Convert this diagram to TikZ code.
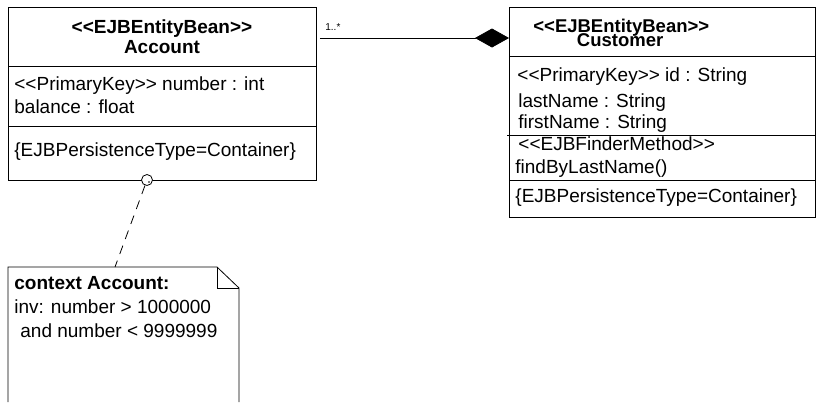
\documentclass[tikz,border=0pt]{standalone}
\usepackage{fontspec}
\setmainfont{Liberation Sans}
\usetikzlibrary{arrows.meta,calc,positioning}
\newcommand{\stype}[1]{<{}<#1>{}>}
\tikzset{cls/.style={draw,anchor=north west,inner sep=0pt},
  txt/.style={anchor=base west,inner sep=0pt},
  ttl/.style={anchor=base,inner sep=0pt,font=\fontsize{19}{23}\selectfont\bfseries}}

\begin{document}
\begin{tikzpicture}[x=1pt,y=-1pt,line width=0.8pt,
  every node/.append style={font=\fontsize{19}{23}\selectfont}]
\useasboundingbox (0,0) rectangle (816,402);
% Account bean
\node[cls,minimum width=308pt,minimum height=173pt] (account) at (8,7) {};
\draw (account.west |- 0,66) -- (account.east |- 0,66);
\draw (account.west |- 0,126) -- (account.east |- 0,126);
\node[ttl] (acct1) at (162,33.3) {\stype{EJBEntityBean}};
\node[ttl] (acct2) at (162,53.3) {Account};
\node[txt] (acca1) at (14,90.5) {\stype{PrimaryKey} number : int};
\node[txt] (acca2) at (14,113) {balance : float};
\node[txt] (accp) at (14,156) {\{EJBPersistenceType=Container\}};
% Customer bean
\node[cls,minimum width=306pt,minimum height=210pt] (customer) at (509,7) {};
\draw (customer.west |- 0,56) -- (customer.east |- 0,56);
\draw ($(customer.west |- 0,135)+(-2,0)$) -- (customer.east |- 0,135);
\draw (customer.west |- 0,180) -- (customer.east |- 0,180);
\node[ttl,anchor=base west,font=\fontsize{18.5}{22}\selectfont\bfseries] (cust1) at (533,32) {\stype{EJBEntityBean}};
\node[ttl,anchor=base west,font=\fontsize{18.5}{22}\selectfont\bfseries] (cust2) at (576.5,46.5) {Customer};
\node[txt] (cusa1) at (517,81) {\stype{PrimaryKey} id : String};
\node[txt] (cusa2) at (518,107.5) {lastName : String};
\node[txt] (cusa3) at (518,128) {firstName : String};
\node[txt] (cusm1) at (518,150) {\stype{EJBFinderMethod}};
\node[txt] (cusm2) at (515,173) {findByLastName()};
\node[txt] (cusp) at (515,202) {\{EJBPersistenceType=Container\}};
% composition
\draw[-{Diamond[length=34pt,width=19pt]},shorten <=3pt] (account.east |- 0,38) -- (customer.west |- 0,38);
\node[txt,font=\fontsize{10}{12}\selectfont] (mult) at (325,30) {1..*};
% OCL note
\node[draw,circle,fill=white,minimum size=11pt,inner sep=0pt] (pin) at (147,180) {};
\fill (pin.center) ++(2,2) circle (0.8);
\coordinate (notetie) at (115,267);
\draw[dash pattern=on 9pt off 7pt] (pin) -- (notetie);
\draw (8,402) -- (8,267) -- (217,267) -- (239,288) -- (239,402);
\draw (217,267) -- (217,288) -- (239,288);
\node[txt,font=\fontsize{19}{23}\selectfont\bfseries] (ctx) at (14,289) {context Account:};
\node[txt] (inv1) at (14,313) {inv: number > 1000000};
\node[txt] (inv2) at (20,337) {and number < 9999999};
\end{tikzpicture}
\end{document}
